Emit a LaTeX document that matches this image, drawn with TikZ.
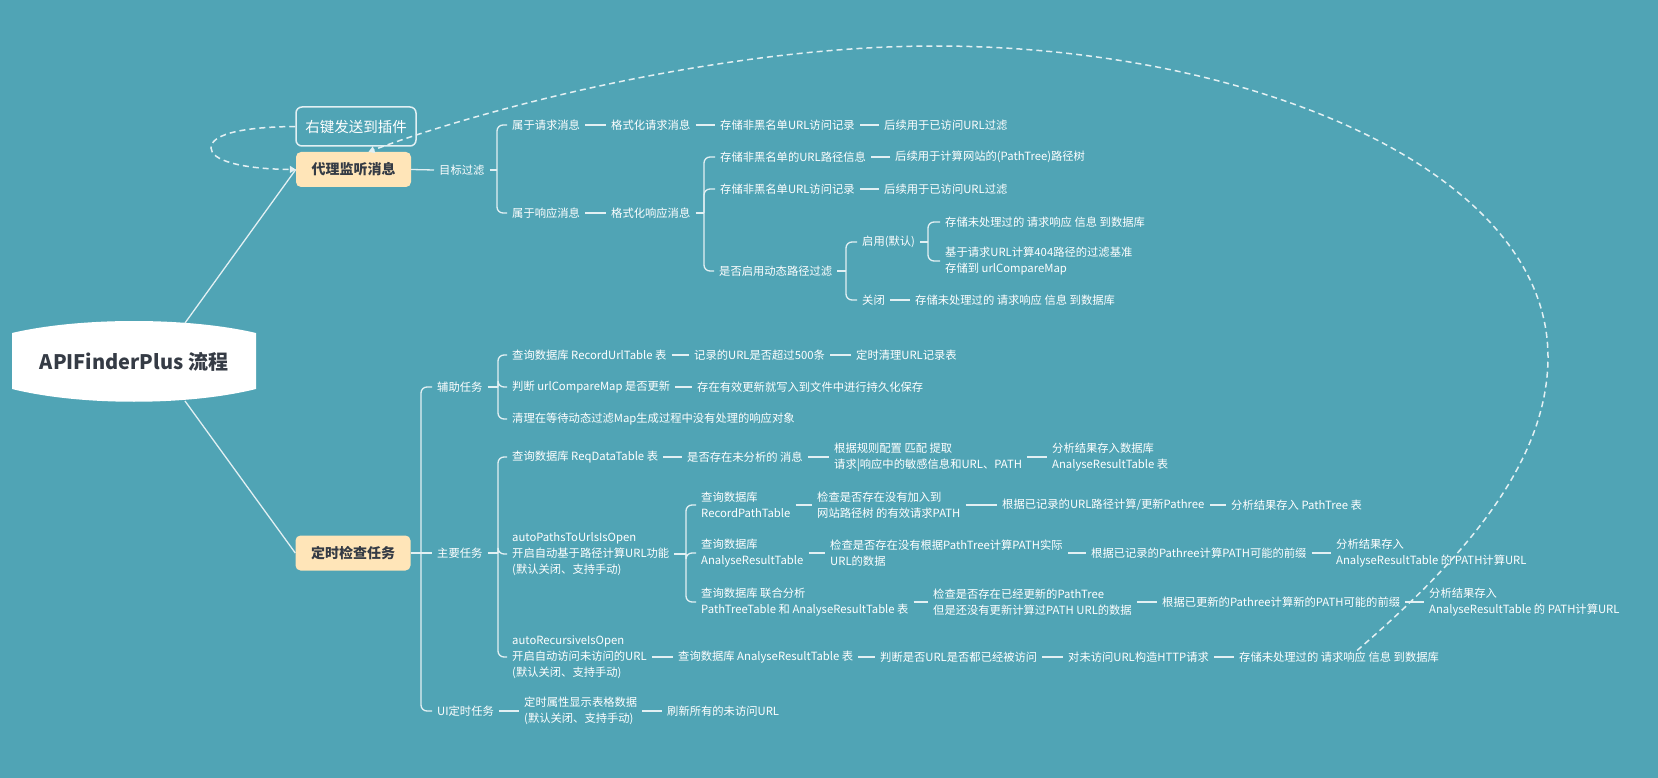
\documentclass[tikz,border=0pt]{standalone}
\usepackage{fontspec}
\setmainfont{Noto Sans CJK SC}
\usetikzlibrary{arrows.meta}
\definecolor{bg}{HTML}{50A4B5}
\definecolor{ln}{HTML}{E2F0F3}
\definecolor{peach}{HTML}{FFE5B8}
\definecolor{dk}{HTML}{353B45}
\begin{document}
\begin{tikzpicture}[x=1pt,y=-1pt,
  t/.style={anchor=west, inner xsep=5pt, inner ysep=1pt, text=white, font=\fontsize{11.3pt}{16pt}\selectfont, align=left},
  con/.style={draw=ln, line width=1.3pt},
  br/.style={draw=ln, line width=1.3pt, rounded corners=6pt},
  dsh/.style={draw=ln, line width=1.5pt, dash pattern=on 6pt off 4pt},
  topic/.style={fill=peach, rounded corners=5pt, text=dk, font=\bfseries\fontsize{14pt}{16pt}\selectfont, minimum width=115pt, minimum height=35pt, inner sep=0pt},
  ghost/.style={draw=ln, line width=1.5pt, rounded corners=6pt, text=white, font=\fontsize{14.5pt}{16pt}\selectfont, minimum width=120pt, minimum height=39pt, inner sep=0pt}
]
\useasboundingbox (0,0) rectangle (1658,778);
\fill[bg] (0,0) rectangle (1658,778);

% bracket x positions
\coordinate (xA) at (497,0);
\coordinate (xB) at (704,0);
\coordinate (xC) at (846,0);
\coordinate (xD) at (928,0);
\coordinate (xM) at (421,0);
\coordinate (xE) at (498,0);
\coordinate (xF) at (686,0);

% root
\fill[white] (12,333) .. controls (80,317) and (188,317) .. (256,333) -- (256,389) .. controls (188,406) and (80,406) .. (12,389) -- cycle;
\node[text=dk, font=\bfseries\fontsize{20pt}{22pt}\selectfont] (root) at (134,362) {APIFinderPlus 流程};
\coordinate (rootT) at (185,323);
\coordinate (rootB) at (185,401);

% ---------- top branch ----------
\node[topic] (proxy) at (353.5,169.5) {代理监听消息};
\node[ghost] (rk) at (356,126.5) {右键发送到插件};
\node[t] (mb) at (434,170) {目标过滤};
\node[t] (q1) at (507,125) {属于请求消息};
\node[t] (q2) at (606,125) {格式化请求消息};
\node[t] (q3) at (715,125) {存储非黑名单URL访问记录};
\node[t] (q4) at (879,125) {后续用于已访问URL过滤};
\node[t] (r1) at (507,213) {属于响应消息};
\node[t] (r2) at (606,213) {格式化响应消息};
\node[t] (s1) at (715,157) {存储非黑名单的URL路径信息};
\node[t] (s1b) at (890,157) {后续用于计算网站的(PathTree)路径树};
\node[t] (s2) at (715,189) {存储非黑名单URL访问记录};
\node[t] (s2b) at (879,189) {后续用于已访问URL过滤};
\node[t] (s3) at (714,271) {是否启用动态路径过滤};
\node[t] (on) at (857,242) {启用(默认)};
\node[t] (on1) at (940,222) {存储未处理过的 请求响应 信息 到数据库};
\node[t] (on2) at (940,261) {基于请求URL计算404路径的过滤基准\\存储到 urlCompareMap};
\node[t] (off) at (857,300) {关闭};
\node[t] (off1) at (910,300) {存储未处理过的 请求响应 信息 到数据库};

\draw[con] (rootT) -- (proxy.west);
\draw[con] (proxy.east) -- (mb.west);
\draw[con] (mb.east) -- (mb.east -| xA);
\draw[br] (mb.east -| xA) |- (q1.west);
\draw[br] (mb.east -| xA) |- (r1.west);
\draw[con] (q1.east) -- (q2.west);
\draw[con] (q2.east) -- (q3.west);
\draw[con] (q3.east) -- (q4.west);
\draw[con] (r1.east) -- (r2.west);
\draw[con] (r2.east) -- (r2.east -| xB);
\draw[br] (r2.east -| xB) |- (s1.west);
\draw[br] (r2.east -| xB) |- (s2.west);
\draw[br] (r2.east -| xB) |- (s3.west);
\draw[con] (s1.east) -- (s1b.west);
\draw[con] (s2.east) -- (s2b.west);
\draw[con] (s3.east) -- (s3.east -| xC);
\draw[br] (s3.east -| xC) |- (on.west);
\draw[br] (s3.east -| xC) |- (off.west);
\draw[con] (on.east) -- (on.east -| xD);
\draw[br] (on.east -| xD) |- (on1.west);
\draw[br] (on.east -| xD) |- (on2.west);
\draw[con] (off.east) -- (off1.west);

% ---------- bottom branch ----------
\node[topic] (timer) at (353,553) {定时检查任务};
\node[t] (aux) at (432,387) {辅助任务};
\node[t] (mainT) at (432,553) {主要任务};
\node[t] (ui) at (432,711) {UI定时任务};

\node[t] (a1) at (507,355) {查询数据库 RecordUrlTable 表};
\node[t] (a1b) at (689,355) {记录的URL是否超过500条};
\node[t] (a1c) at (851,355) {定时清理URL记录表};
\node[t] (a2) at (507,387) {判断 urlCompareMap 是否更新};
\node[t] (a2b) at (692,387) {存在有效更新就写入到文件中进行持久化保存};
\node[t] (a3) at (507,419) {清理在等待动态过滤Map生成过程中没有处理的响应对象};

\node[t] (m1) at (507,457) {查询数据库 ReqDataTable 表};
\node[t] (m1b) at (682,457) {是否存在未分析的 消息};
\node[t] (m1c) at (829,457) {根据规则配置 匹配 提取\\请求|响应中的敏感信息和URL、PATH};
\node[t] (m1d) at (1047,457) {分析结果存入数据库\\AnalyseResultTable 表};

\node[t] (m2) at (507,554) {autoPathsToUrlsIsOpen\\开启自动基于路径计算URL功能\\(默认关闭、支持手动)};
\node[t] (p1) at (696,505) {查询数据库\\RecordPathTable};
\node[t] (p1b) at (812,505) {检查是否存在没有加入到\\网站路径树 的有效请求PATH};
\node[t] (p1c) at (997,505) {根据已记录的URL路径计算/更新Pathree};
\node[t] (p1d) at (1226,505) {分析结果存入 PathTree 表};
\node[t] (p2) at (696,553) {查询数据库\\AnalyseResultTable};
\node[t] (p2b) at (825,553) {检查是否存在没有根据PathTree计算PATH实际\\URL的数据};
\node[t] (p2c) at (1086,553) {根据已记录的Pathree计算PATH可能的前缀};
\node[t] (p2d) at (1331,553) {分析结果存入\\AnalyseResultTable 的 PATH计算URL};
\node[t] (p3) at (696,602) {查询数据库 联合分析\\PathTreeTable 和 AnalyseResultTable 表};
\node[t] (p3b) at (928,602) {检查是否存在已经更新的PathTree\\但是还没有更新计算过PATH URL的数据};
\node[t] (p3c) at (1157,602) {根据已更新的Pathree计算新的PATH可能的前缀};
\node[t] (p3d) at (1424,602) {分析结果存入\\AnalyseResultTable 的 PATH计算URL};

\node[t] (m3) at (507,657) {autoRecursiveIsOpen\\开启自动访问未访问的URL\\(默认关闭、支持手动)};
\node[t] (m3b) at (673,657) {查询数据库 AnalyseResultTable 表};
\node[t] (m3c) at (875,657) {判断是否URL是否都已经被访问};
\node[t] (m3d) at (1063,657) {对未访问URL构造HTTP请求};
\node[t] (m3e) at (1234,657) {存储未处理过的 请求响应 信息 到数据库};

\node[t] (u1) at (519,711) {定时属性显示表格数据\\(默认关闭、支持手动)};
\node[t] (u2) at (662,711) {刷新所有的未访问URL};

\draw[con] (rootB) -- (timer.west);
\draw[con] (timer.east) -- (mainT.west);
\draw[br] (timer.east -| xM) |- (aux.west);
\draw[br] (timer.east -| xM) |- (ui.west);

\draw[con] (aux.east) -- (aux.east -| xE);
\draw[br] (aux.east -| xE) |- (a1.west);
\draw[br] (aux.east -| xE) |- (a2.west);
\draw[br] (aux.east -| xE) |- (a3.west);
\draw[con] (a1.east) -- (a1b.west);
\draw[con] (a1b.east) -- (a1c.west);
\draw[con] (a2.east) -- (a2b.west);

\draw[con] (mainT.east) -- (mainT.east -| xE);
\draw[br] (mainT.east -| xE) |- (m1.west);
\draw[br] (mainT.east -| xE) |- (m2.west);
\draw[br] (mainT.east -| xE) |- (m3.west);
\draw[con] (m1.east) -- (m1b.west);
\draw[con] (m1b.east) -- (m1c.west);
\draw[con] (m1c.east) -- (m1d.west);

\draw[con] (m2.east) -- (m2.east -| xF);
\draw[br] (m2.east -| xF) |- (p1.west);
\draw[br] (m2.east -| xF) |- (p2.west);
\draw[br] (m2.east -| xF) |- (p3.west);
\draw[con] (p1.east) -- (p1b.west);
\draw[con] (p1b.east) -- (p1c.west);
\draw[con] (p1c.east) -- (p1d.west);
\draw[con] (p2.east) -- (p2b.west);
\draw[con] (p2b.east) -- (p2c.west);
\draw[con] (p2c.east) -- (p2d.west);
\draw[con] (p3.east) -- (p3b.west);
\draw[con] (p3b.east) -- (p3c.west);
\draw[con] (p3c.east) -- (p3d.west);

\draw[con] (m3.east) -- (m3b.west);
\draw[con] (m3b.east) -- (m3c.west);
\draw[con] (m3c.east) -- (m3d.west);
\draw[con] (m3d.east) -- (m3e.west);

\draw[con] (ui.east) -- (u1.west);
\draw[con] (u1.east) -- (u2.west);

% ---------- dashed relationships ----------
\draw[dsh, -{Triangle[width=7pt,length=6pt]}] (rk.west) .. controls (235,127) and (211,136) .. (211,148) .. controls (211,160) and (240,169) .. (proxy.west);
\draw[dsh, -{Triangle[width=7pt,length=6pt]}] ([xshift=18pt]m3e.north) .. controls (1450,570) and (1548,470) .. (1548,357) .. controls (1548,170) and (1250,46) .. (935,46) .. controls (720,46) and (480,110) .. ([xshift=15pt]proxy.north);
\end{tikzpicture}
\end{document}
